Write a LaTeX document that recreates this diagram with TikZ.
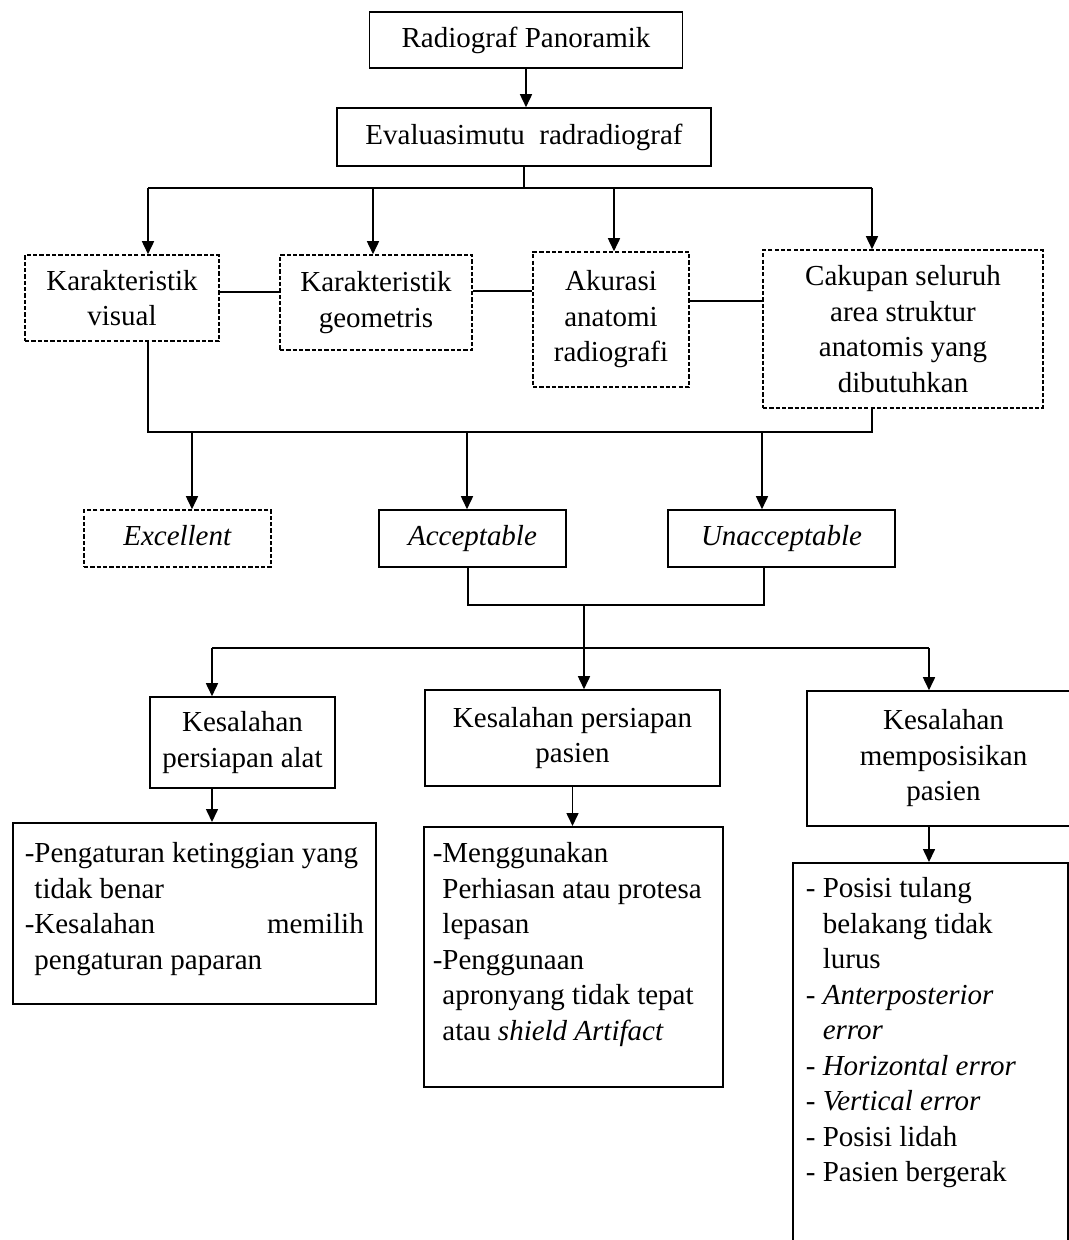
\documentclass[tikz,border=0pt]{standalone}
\usepackage{fontspec}
\setmainfont{Liberation Serif}
\usetikzlibrary{arrows.meta}

\newcommand{\dashitem}{\makebox[0.34cm][l]{-}}
\newcommand{\dashgap}{\hspace*{0.34cm}}

\begin{document}
\begin{tikzpicture}[
  x=0.02cm, y=-0.02cm,
  font=\fontsize{16.5}{20.2}\selectfont,
  box/.style 2 args={draw, line width=0.9pt, align=center, inner sep=0pt, minimum width=#1, minimum height=#2},
  dbox/.style 2 args={box={#1}{#2}, dash pattern=on 2.4pt off 1.2pt},
  listbox/.style={draw, line width=0.9pt, anchor=north west, inner xsep=0pt},
  link/.style={line width=0.9pt},
  arr/.style={-{Triangle[length=0.26cm, width=0.24cm]}, line width=0.9pt}
]
  \useasboundingbox (0,0) rectangle (1068,1240);

  % ===== top =====
  \node[box={6.26cm}{1.12cm}] (rp) at (526,40) {Radiograf Panoramik};
  \node[box={7.48cm}{1.16cm}] (eval) at (524,137) {Evaluasimutu\ \ radradiograf};

  % ===== criteria =====
  \node[dbox={3.88cm}{1.72cm}] (kv) at (122,298) {Karakteristik\\visual};
  \node[dbox={3.84cm}{1.9cm}] (kg) at (376,302.5) {Karakteristik\\geometris};
  \node[dbox={3.12cm}{2.7cm}] (aa) at (611,319.5) {Akurasi\\anatomi\\radiografi};
  \node[dbox={5.6cm}{3.16cm}] (cs) at (903,329) {Cakupan seluruh\\area struktur\\anatomis yang\\dibutuhkan};

  \coordinate (t1) at (148,188);
  \coordinate (t2) at (373,188);
  \coordinate (t3) at (614,188);
  \coordinate (t4) at (872,188);

  \draw[arr] (rp.south) -- (rp.south |- eval.north);
  \draw[link] (eval.south) -- (eval.south |- t1);
  \draw[link] (t1) -- (t4);
  \draw[arr] (t1) -- (t1 |- kv.north);
  \draw[arr] (t2) -- (t2 |- kg.north);
  \draw[arr] (t3) -- (t3 |- aa.north);
  \draw[arr] (t4) -- (t4 |- cs.north);

  \draw[link] (kv.east |- 0,292) -- (kg.west |- 0,292);
  \draw[link] (kg.east |- 0,291) -- (aa.west |- 0,291);
  \draw[link] (aa.east |- 0,301) -- (cs.west |- 0,301);

  % ===== results =====
  \node[dbox={3.74cm}{1.14cm}] (exc) at (177.5,538.5) {\strut\textit{Excellent}};
  \node[box={3.74cm}{1.14cm}] (acc) at (472.5,538.5) {\strut\textit{Acceptable}};
  \node[box={4.54cm}{1.14cm}] (unacc) at (781.5,538.5) {\strut\textit{Unacceptable}};

  \coordinate (u1) at (148,432);
  \coordinate (u2) at (872,432);
  \coordinate (v1) at (192,432);
  \coordinate (v2) at (467,432);
  \coordinate (v3) at (762,432);

  \draw[link] (u1 |- kv.south) -- (u1) -- (u2) -- (u2 |- cs.south);
  \draw[arr] (v1) -- (v1 |- exc.north);
  \draw[arr] (v2) -- (v2 |- acc.north);
  \draw[arr] (v3) -- (v3 |- unacc.north);

  % ===== errors =====
  \node[box={3.7cm}{1.82cm}] (ka) at (242.5,742.5) {Kesalahan\\persiapan alat};
  \node[box={5.9cm}{1.92cm}] (kpp) at (572.5,738) {Kesalahan persiapan\\pasien};
  \node[box={5.46cm}{2.7cm}] (km) at (943.5,758.5) {Kesalahan\\memposisikan\\pasien};

  \coordinate (w1) at (468,605);
  \coordinate (w2) at (764,605);
  \coordinate (w3) at (584,605);
  \coordinate (x1) at (212,648);
  \coordinate (x2) at (929,648);

  \draw[link] (w1 |- acc.south) -- (w1) -- (w2) -- (w2 |- unacc.south);
  \draw[arr] (w3) -- (w3 |- kpp.north);
  \draw[link] (x1) -- (x2);
  \draw[arr] (x1) -- (x1 |- ka.north);
  \draw[arr] (x2) -- (x2 |- km.north);

  % ===== details =====
  \node[listbox, minimum width=7.26cm, inner ysep=0.4cm] (l1) at (12,822)
    {\parbox[b][2.82cm][t]{6.78cm}{-Pengaturan ketinggian yang\\
      \phantom{-}tidak benar\\
      -Kesalahan\hfill memilih\\
      \phantom{-}pengaturan paparan}};
  \node[listbox, minimum width=5.98cm, inner ysep=0.32cm] (l2) at (423,826)
    {\parbox[b][4.56cm][t]{5.62cm}{-Menggunakan\\
      \phantom{-}Perhiasan atau protesa\\
      \phantom{-}lepasan\\
      -Penggunaan\\
      \phantom{-}apronyang tidak tepat\\
      \phantom{-}atau \textit{shield Artifact}}};
  \node[listbox, minimum width=5.5cm, inner ysep=0.3cm] (l3) at (792,862)
    {\parbox[b][7.36cm][t]{4.98cm}{\dashitem Posisi tulang\\
      \dashgap belakang tidak\\
      \dashgap lurus\\
      \dashitem\textit{Anterposterior}\\
      \dashgap\textit{error}\\
      \dashitem\textit{Horizontal error}\\
      \dashitem\textit{Vertical error}\\
      \dashitem Posisi lidah\\
      \dashitem Pasien bergerak}};

  \draw[arr] (x1 |- ka.south) -- (x1 |- l1.north);
  \draw[arr] (kpp.south) -- (kpp.south |- l2.north);
  \draw[arr] (x2 |- km.south) -- (x2 |- l3.north);
\end{tikzpicture}
\end{document}
